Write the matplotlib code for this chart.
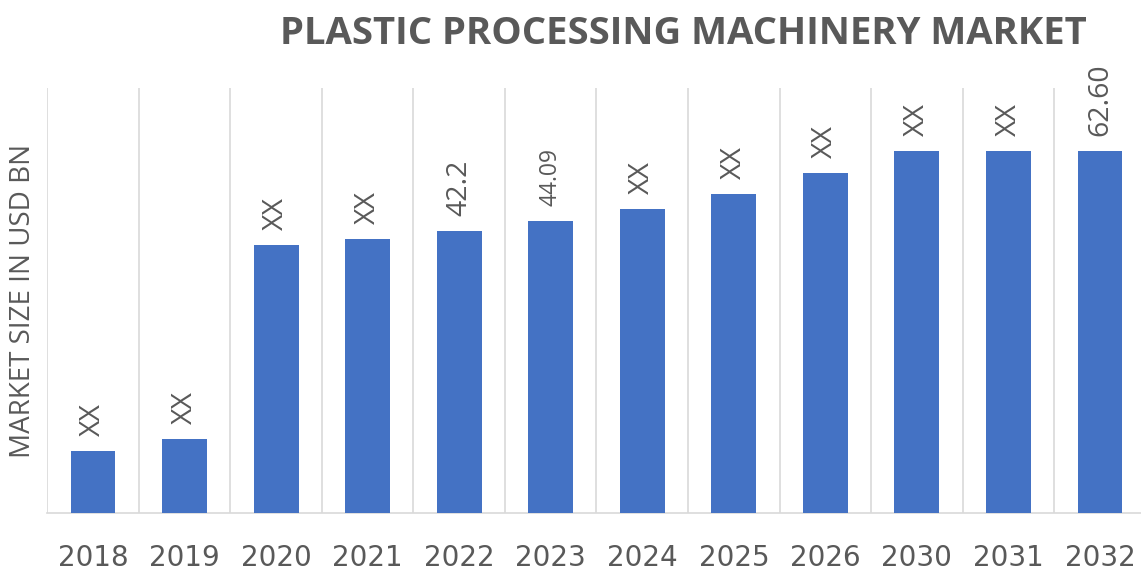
import matplotlib
matplotlib.use("Agg")
import matplotlib.pyplot as plt
import numpy as np

years = ["2018", "2019", "2020", "2021", "2022", "2023", "2024", "2025", "2026", "2030", "2031", "2032"]
values = [10.7, 12.8, 46.3, 47.4, 48.8, 50.5, 52.6, 55.2, 58.8, 62.6, 62.6, 62.6]
labels = ["XX", "XX", "XX", "XX", "42.2", "44.09", "XX", "XX", "XX", "XX", "XX", "62.60"]

BAR = "#4472C4"
TXT = "#595959"
GRID = "#D9D9D9"

plt.rcParams['font.family'] = ['Open Sans', 'DejaVu Sans']

W, H = 1141, 570
fig = plt.figure(figsize=(W / 100, H / 100), dpi=100)
ax = fig.add_axes([47.2 / W, 57 / H, 1098.6 / W, 425 / H])

x = np.arange(len(years))
ax.bar(x, values, width=0.49, color=BAR, zorder=3)
ax.set_xlim(-0.5, len(years) - 0.5)
ax.set_ylim(0, 73.5)

for b in np.arange(-0.5, len(years), 1.0):
    ax.axvline(b, color=GRID, lw=1.2, zorder=1)

for xi, v, lab in zip(x, values, labels):
    fs = 16.5 if lab == "44.09" else 20.5
    ax.annotate(lab, (xi, v), xytext=(0, 11), textcoords="offset points",
                rotation=90, ha="center", va="bottom", fontsize=fs, color=TXT)

ax.set_xticks(x)
ax.set_xticklabels(years, fontsize=20, color=TXT, family="DejaVu Sans")
ax.tick_params(axis="x", length=0, pad=22)
ax.set_yticks([])
for s in ["left", "right", "top"]:
    ax.spines[s].set_visible(False)
ax.spines["bottom"].set_color(GRID)
ax.spines["bottom"].set_linewidth(1.2)

fig.text(683 / W, 1 - 44 / H, "PLASTIC PROCESSING MACHINERY MARKET", ha="center", va="baseline",
         fontsize=27.5, fontweight="bold", color=TXT)
fig.text(23 / W, 1 - 301 / H, "MARKET SIZE IN USD BN", rotation=90, ha="center", va="center",
         fontsize=20, color=TXT)

fig.savefig("out.png", dpi=100)
